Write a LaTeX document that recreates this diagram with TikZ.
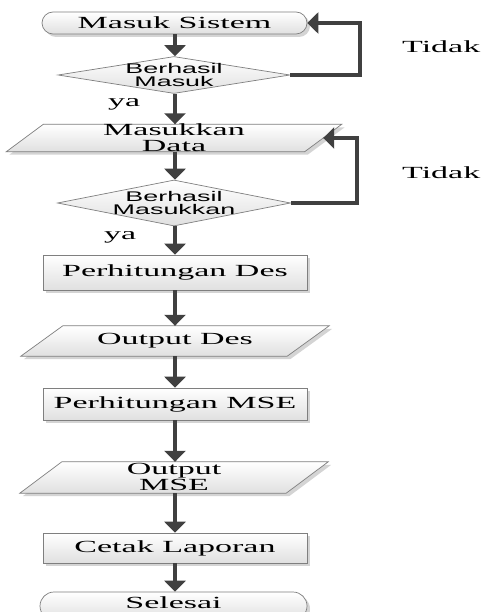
\documentclass[tikz,border=0pt]{standalone}
\usepackage{fontspec}
\usetikzlibrary{arrows.meta,shapes.misc,shapes.geometric,shadows,calc}
\newfontfamily\fserif[FakeStretch=2.0]{Liberation Serif}
\newfontfamily\fsans[FakeStretch=1.92]{Liberation Sans}
\definecolor{arrowc}{HTML}{404040}
\definecolor{edgec}{HTML}{7F7F7F}
\definecolor{fillb}{HTML}{E0E0E0}
\definecolor{shadc}{HTML}{D4D4D4}
\tikzset{
  shapebox/.style={draw=edgec, line width=0.7pt, top color=white, bottom color=fillb},
  dshadow/.style={drop shadow={shadow xshift=3pt, shadow yshift=-3pt, fill=shadc, opacity=1}},
  flow/.style={draw=arrowc, line width=4pt, -{Triangle[width=21pt,length=11pt]}},
  lbl/.style={font=\fserif\fontsize{17}{16}\selectfont, inner sep=0pt, align=center, text=black},
  dlbl/.style={font=\fsans\fontsize{14}{13.5}\selectfont, inner sep=0pt, align=center, text=black},
  anchorbox/.style={rectangle, inner sep=0pt},
}
\newcommand{\drawpara}[2]{%
  \fill[shadc] ([xshift=#2+3pt,yshift=-3pt]#1.north west) -- ([xshift=#2+3pt,yshift=-3pt]#1.north east) -- ([xshift=-#2+3pt,yshift=-3pt]#1.south east) -- ([xshift=-#2+3pt,yshift=-3pt]#1.south west) -- cycle;
  \path[shapebox] ([xshift=#2]#1.north west) -- ([xshift=#2]#1.north east) -- ([xshift=-#2]#1.south east) -- ([xshift=-#2]#1.south west) -- cycle;}
\begin{document}
\begin{tikzpicture}[x=1pt,y=-1pt]
\useasboundingbox[fill=white] (0,0) rectangle (483,612);

% start terminator
\node[rounded rectangle, shapebox, dshadow, minimum width=265pt, minimum height=22pt, inner sep=0pt, lbl] (start) at (174.5,23) {Masuk Sistem};

% decision 1
\node[diamond, shapebox, minimum width=232pt, minimum height=37pt, inner sep=0pt] (d1) at (174,75) {};
\node[dlbl] (d1t) at (174,75) {Berhasil\\Masuk};

% input data
\node[anchorbox, minimum width=298pt, minimum height=27pt] (data) at (174,138) {};
\drawpara{data}{18.5pt}
\node[lbl] (datat) at (174,138) {Masukkan\\Data};

% decision 2
\node[diamond, shapebox, minimum width=233pt, minimum height=46pt, inner sep=0pt] (d2) at (174,203) {};
\node[dlbl] (d2t) at (174,203) {Berhasil\\Masukkan};

% process Des
\node[rectangle, shapebox, dshadow, minimum width=264pt, minimum height=35pt, inner sep=0pt, lbl] (pdes) at (175,272.5) {Perhitungan Des};

% output Des
\node[anchorbox, minimum width=266pt, minimum height=30pt] (odes) at (175,341) {};
\drawpara{odes}{21pt}
\node[lbl] (odest) at (175,341) {Output Des};

% process MSE
\node[rectangle, shapebox, dshadow, minimum width=264pt, minimum height=32pt, inner sep=0pt, lbl] (pmse) at (175,404) {Perhitungan MSE};

% output MSE
\node[anchorbox, minimum width=266pt, minimum height=31pt] (omse) at (174,477.5) {};
\drawpara{omse}{21pt}
\node[lbl] (omset) at (174,477) {Output\\MSE};

% Cetak Laporan
\node[rectangle, shapebox, dshadow, minimum width=264pt, minimum height=30pt, inner sep=0pt, lbl] (cetak) at (175,548) {Cetak Laporan};

% end terminator
\node[rounded rectangle, shapebox, dshadow, minimum width=267pt, minimum height=28pt, inner sep=0pt] (end) at (173.5,606) {};
\node[lbl] (endt) at (173.5,603) {Selesai};

% labels
\node[lbl, anchor=base west] (ya1) at (108,107) {ya};
\node[lbl, anchor=base west] (ya2) at (104,239) {ya};
\node[lbl, anchor=base west] (t1) at (402,53) {Tidak};
\node[lbl, anchor=base west] (t2) at (402,179) {Tidak};

% loop columns
\coordinate (c1) at (360,0);
\coordinate (c2) at (357,0);

% connectors
\draw[flow] (start.south -| 175,0) -- (d1.north -| 175,0);
\draw[flow] (d1.south -| 175,0) -- (data.north -| 175,0);
\draw[flow] (data.south -| 175,0) -- (d2.north -| 175,0);
\draw[flow] (d2.south -| 175,0) -- (pdes.north);
\draw[flow] (pdes.south) -- (odes.north);
\draw[flow] (odes.south) -- (pmse.north);
\draw[flow] (pmse.south) -- (omse.north -| 175,0);
\draw[flow] (omse.south -| 175,0) -- (cetak.north);
\draw[flow] (cetak.south) -- (end.north -| 175,0);

\draw[flow] (d1.east) -- (d1.east -| c1) |- (start.east);
\draw[flow] (d2.east) -- (d2.east -| c2) |- (data.east);
\end{tikzpicture}
\end{document}
